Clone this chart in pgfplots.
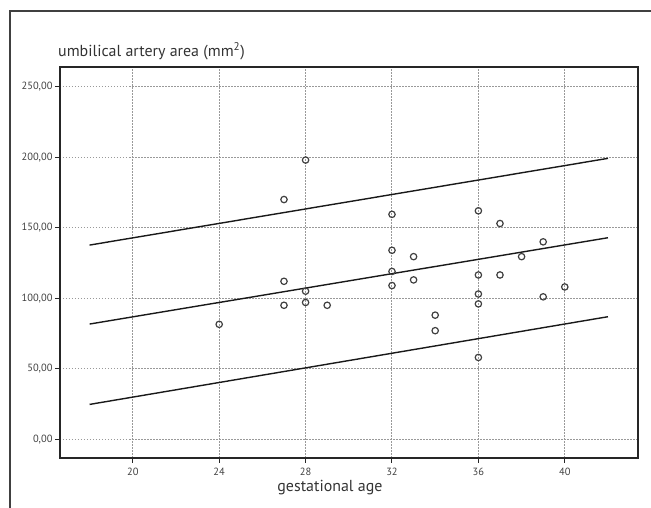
\documentclass[border=0pt]{standalone}
\usepackage{fontspec}
\setmainfont{PT Sans}
\usepackage{pgfplots}
\pgfplotsset{compat=1.18}
\begin{document}
\begin{tikzpicture}[x=1bp,y=1bp]
\useasboundingbox (-60,-50) rectangle (591,458);
\draw[line width=1.2bp, black!75] (-50,-50) -- (-50,447) -- (591,447);
\begin{axis}[
  at={(0,0)}, anchor=south west,
  scale only axis, width=578bp, height=391bp,
  xmin=16.63, xmax=43.39, ymin=-13.3, ymax=264,
  xtick={20,24,...,40}, ytick={0,50,...,250},
  grid=major,
  major grid style={dash pattern=on 1.5bp off 1.5bp, black!40, line width=1bp},
  axis line style={black!85, line width=1.3bp},
  tick style={black!85, line width=1bp},
  tick align=outside, major tick length=5bp,
  xtick pos=bottom, ytick pos=left,
  /pgf/number format/assume math mode=true,
  yticklabel={\pgfmathprintnumber[fixed,fixed zerofill,precision=2,use comma]{\tick}},
  xticklabel style={font=\fontsize{10.5}{11}\selectfont, text=black!75, yshift=-2bp},
  yticklabel style={font=\fontsize{10.5}{11}\selectfont, text=black!75, xshift=1bp},
  xlabel={gestational age},
  xlabel style={font=\fontsize{16}{18}\selectfont, text=black!80, at={(rel axis cs:0.467,0)}, anchor=north, yshift=-19bp},
  clip=false,
]
\addplot[only marks, mark=o, mark size=3.2bp, black!75, line width=1.2bp] coordinates {
(24,81.5) (27,112) (27,95) (27,170) (28,105) (28,97) (28,198) (29,95)
(32,159.5) (32,134) (32,119) (32,109) (33,129.5) (33,113) (34,88) (34,77)
(36,162) (36,116.5) (36,103) (36,96) (36,58) (37,153) (37,116.5) (38,129.5)
(39,140) (39,101) (40,108)
};
\addplot[black!90, line width=1.4bp] coordinates {(18,137.7) (42,199.2)};
\addplot[black!90, line width=1.4bp] coordinates {(18,81.7) (42,142.9)};
\addplot[black!90, line width=1.4bp] coordinates {(18,24.7) (42,86.9)};
\node[anchor=base west, inner sep=0pt, font=\fontsize{16}{18}\selectfont, text=black!80] at ([xshift=-2bp,yshift=10bp]rel axis cs:0,1) {umbilical artery area (mm\textsuperscript{2})};
\end{axis}
\end{tikzpicture}
\end{document}
